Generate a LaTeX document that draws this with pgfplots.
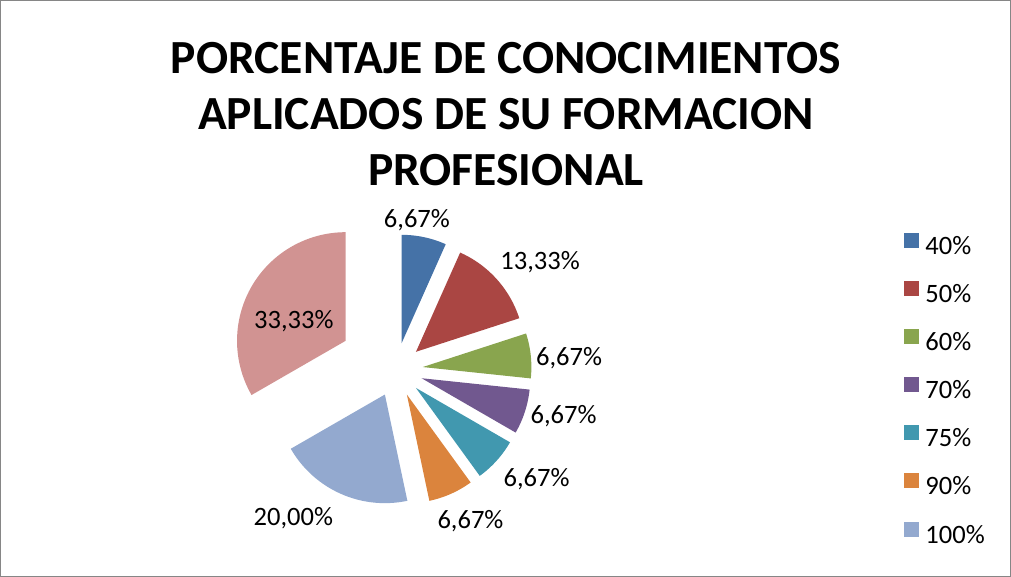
\documentclass[border=0pt]{standalone}
\usepackage{pgfplots}
\pgfplotsset{compat=1.18}
\usepackage{fontspec}
\setmainfont{Carlito}
\definecolor{c1}{HTML}{4572A7}
\definecolor{c2}{HTML}{AA4643}
\definecolor{c3}{HTML}{89A54E}
\definecolor{c4}{HTML}{71588F}
\definecolor{c5}{HTML}{4198AF}
\definecolor{c6}{HTML}{DB843D}
\definecolor{c7}{HTML}{93A9CF}
\definecolor{c8}{HTML}{D19392}
\definecolor{frame}{HTML}{868686}
\begin{document}
\begin{tikzpicture}
\begin{axis}[width=1011pt,height=577pt,scale only axis,
  xmin=0,xmax=1011,ymin=0,ymax=577,hide axis,clip=false,
  legend style={at={(axis cs:904,344)},anchor=north west,draw=none,fill=none,
    inner sep=0pt,outer sep=0pt,font=\fontsize{26.5}{26.5}\selectfont,
    row sep=20.6pt,column sep=6pt,
    nodes={inner sep=0pt,text height=19pt,text depth=6pt}},
  legend cell align=left,
  legend image code/.code={\fill[#1] (0pt,0pt) rectangle (15pt,15pt);},
  legend entries={40\%,50\%,60\%,70\%,75\%,90\%,100\%},
]
\def\cum{0}
\foreach \v/\col/\e in {6.67/c1/27,13.33/c2/27,6.67/c3/27,6.67/c4/27,6.67/c5/27,6.67/c6/27,20.00/c7/27,33.33/c8/58}{
  \pgfmathsetmacro\aS{90-3.6*\cum}
  \pgfmathsetmacro\aE{90-3.6*(\cum+\v)}
  \pgfmathsetmacro\aM{(\aS+\aE)/2}
  \pgfmathsetmacro\px{396+\e*cos(\aM)}
  \pgfmathsetmacro\py{207+\e*sin(\aM)}
  \edef\tmp{\noexpand\addplot[fill=\col,draw=none,domain=\aE:\aS,samples=60,variable=\noexpand\t] ({\px+108.5*cos(\noexpand\t)},{\py+108.5*sin(\noexpand\t)}) -- (axis cs:\px,\py) -- cycle;}
  \tmp
  \pgfmathsetmacro\nc{\cum+\v}
  \xdef\cum{\nc}
}
\draw[frame,line width=1pt] (axis cs:1,1) rectangle (axis cs:1010,576);
\tikzset{lbl/.style={font=\fontsize{26.5}{26.5}\selectfont,anchor=base,inner sep=0pt}}
\node[lbl] at (axis cs:417,349) {6,67\%};
\node[lbl] at (axis cs:540,307) {13,33\%};
\node[lbl] at (axis cs:569,211) {6,67\%};
\node[lbl] at (axis cs:563.5,153) {6,67\%};
\node[lbl] at (axis cs:536.5,90) {6,67\%};
\node[lbl] at (axis cs:470.5,49) {6,67\%};
\node[lbl] at (axis cs:293.5,52) {20,00\%};
\node[lbl] at (axis cs:294,248) {33,33\%};
\tikzset{ttl/.style={font=\bfseries\fontsize{47.5}{47.5}\selectfont,anchor=base,inner sep=0pt}}
\node[ttl] at (axis cs:506,503) {PORCENTAJE DE CONOCIMIENTOS};
\node[ttl] at (axis cs:506,447) {APLICADOS DE SU FORMACION};
\node[ttl] at (axis cs:506,391) {PROFESIONAL};
\end{axis}
\end{tikzpicture}
\end{document}
